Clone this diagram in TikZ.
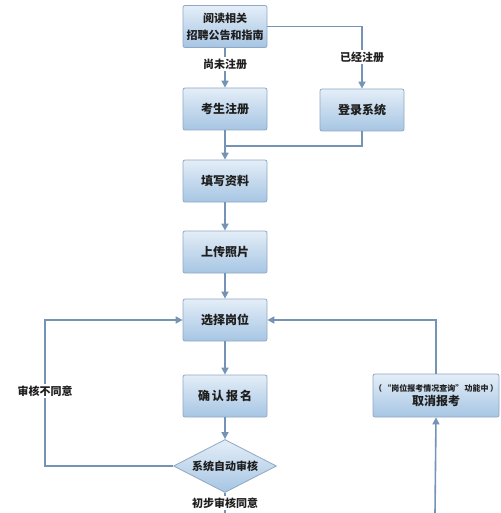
\documentclass[tikz,border=0pt]{standalone}
\usepackage{fontspec}
\setmainfont{Noto Sans CJK SC}
\usetikzlibrary{arrows.meta,shapes.geometric}
\definecolor{linea}{HTML}{7493B5}
\definecolor{borde}{HTML}{8FA8C4}
\definecolor{arriba}{HTML}{E4EEF8}
\definecolor{abajo}{HTML}{A6C5E3}
\definecolor{texto}{HTML}{1E1E1E}
\begin{document}
\begin{tikzpicture}[x=1pt,y=-1pt,
    caja/.style={draw=borde,line width=0.8pt,rounded corners=2pt,top color=arriba,bottom color=abajo,
      minimum width=84pt,minimum height=42pt,inner sep=1pt,align=center,text=texto,font=\bfseries\fontsize{12}{14}\selectfont},
    rombo/.style={diamond,draw=borde,line width=0.8pt,top color=arriba,bottom color=abajo,aspect=1.94,
      minimum width=103pt,minimum height=53pt,inner sep=0pt,text=texto,font=\bfseries\fontsize{11}{13}\selectfont},
    flecha/.style={draw=linea,line width=1.6pt,-{Triangle[length=7pt,width=7pt]}},
    linea/.style={draw=linea,line width=1.6pt},
    etiqueta/.style={fill=white,inner sep=1.5pt,text=texto,font=\bfseries\fontsize{11}{13}\selectfont}]
    \useasboundingbox (0,0) rectangle (500,513);
    % Cajas
    \node[caja,font=\bfseries\fontsize{11}{17}\selectfont] (yuedu) at (225,26.5) {阅读相关\\招聘公告和指南};
    \node[caja] (zhuce) at (225,109) {考生注册};
    \node[caja] (denglu) at (362,110) {登录系统};
    \node[caja] (tianxie) at (225,181) {填写资料};
    \node[caja] (shangchuan) at (225,252) {上传照片};
    \node[caja] (xuanze) at (225,320) {选择岗位};
    \node[caja] (queren) at (225,396) {确\,认\,报\,名};
    \node[rombo] (shenhe) at (225,466) {系统自动审核};
    \node[caja,minimum width=124pt,minimum height=43pt] (quxiao) at (436,395.5)
      {{\fontsize{8}{12}\selectfont （\,“岗位报考情况查询”\,功能中\,）}\\取消报考};
    % Puntos auxiliares
    \coordinate (hebing) at (225,146);
    \coordinate (zuo) at (45,320);
    \coordinate (abajo1) at (225,513);
    \coordinate (abajo2) at (435,513);
    % Conectores
    \draw[flecha] (yuedu) -- (zhuce);
    \draw[flecha] (yuedu.east) -| (denglu.north);
    \draw[flecha] (zhuce) -- (tianxie);
    \draw[linea] (denglu.south) |- (hebing);
    \draw[flecha] (tianxie) -- (shangchuan);
    \draw[flecha] (shangchuan) -- (xuanze);
    \draw[flecha] (xuanze) -- (queren);
    \draw[flecha] (queren) -- (shenhe.north);
    \draw[flecha] (shenhe.west) -| (zuo) -- (xuanze.west);
    \draw[flecha] (quxiao.north) |- (xuanze.east);
    \draw[flecha] (abajo2) -- (quxiao.south);
    \draw[linea] (shenhe.south) -- (abajo1);
    % Etiquetas
    \node[etiqueta] (weizhuce) at (225,64) {尚未注册};
    \node[etiqueta] (yizhuce) at (362,57) {已经注册};
    \node[etiqueta] (butongyi) at (45,391) {审核不同意};
    \node[etiqueta] (tongyi) at (225,503) {初步审核同意};
\end{tikzpicture}
\end{document}
